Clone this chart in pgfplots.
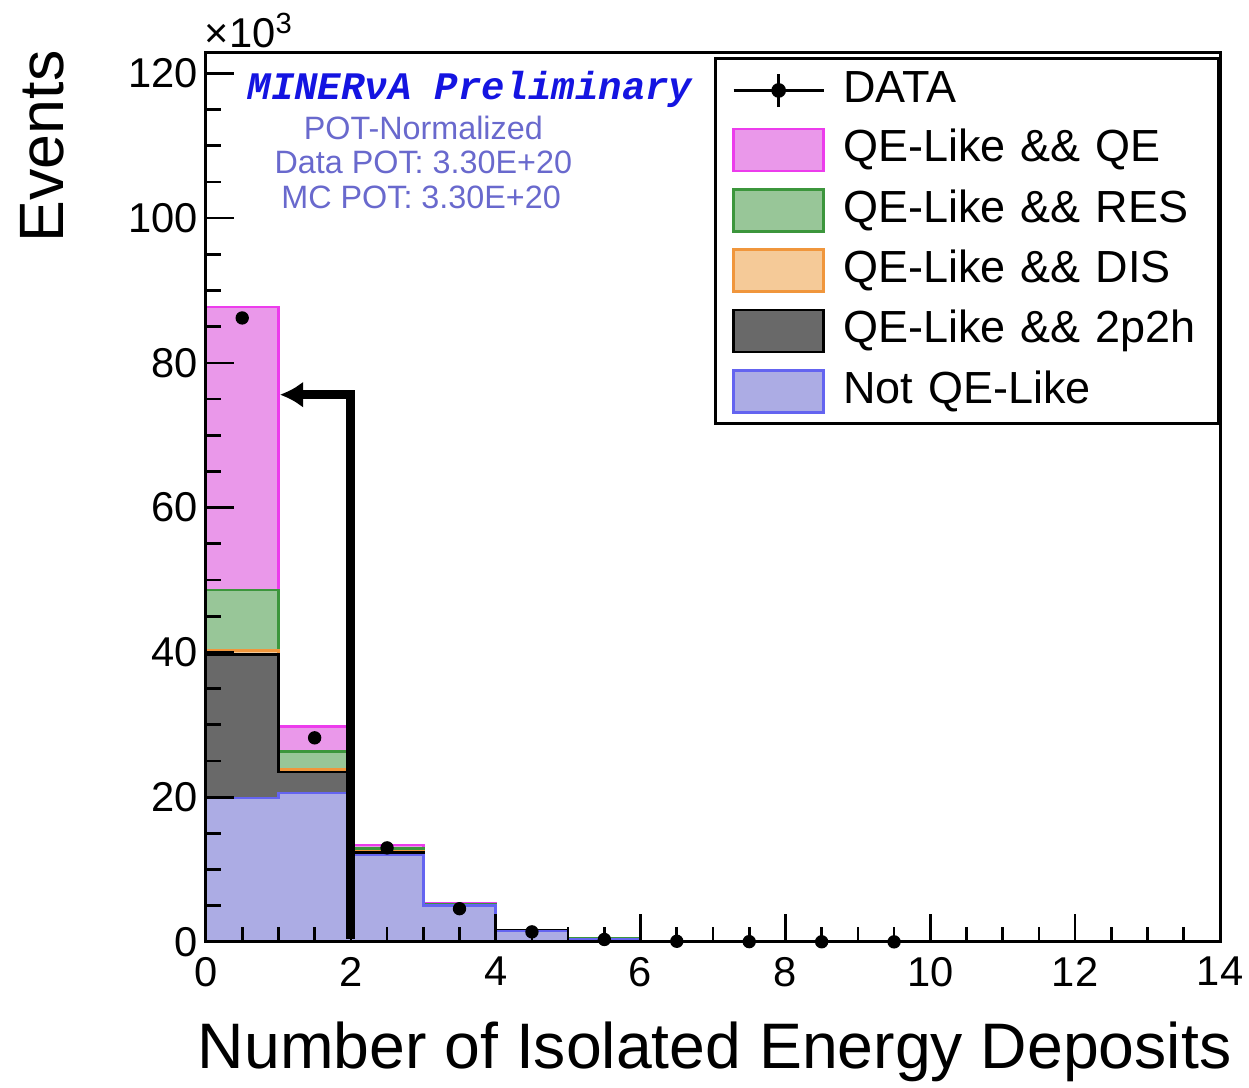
\documentclass[border=0pt]{standalone}
\usepackage{fontspec}
\setmainfont{Liberation Sans}
\newfontfamily\monobi{Liberation Mono}
\usepackage{pgfplots}
\pgfplotsset{compat=1.18}
\usetikzlibrary{arrows.meta}

\definecolor{qefill}{RGB}{234,152,234}
\definecolor{qedraw}{RGB}{236,60,236}
\definecolor{resfill}{RGB}{152,198,152}
\definecolor{resdraw}{RGB}{60,150,60}
\definecolor{disfill}{RGB}{245,202,152}
\definecolor{disdraw}{RGB}{240,150,60}
\definecolor{tphfill}{RGB}{105,105,105}
\definecolor{tphdraw}{RGB}{0,0,0}
\definecolor{notfill}{RGB}{172,172,228}
\definecolor{notdraw}{RGB}{100,100,240}
\definecolor{prelim}{RGB}{20,20,225}
\definecolor{potc}{RGB}{105,105,205}

\pgfplotsset{
  myarea/.style={legend image code/.code={\draw[##1, line width=0.8pt] (0pt,-6.3pt) rectangle (27pt,6.3pt);}},
}

\begin{document}
\begin{tikzpicture}
\begin{axis}[
  scale only axis, width=304.2pt, height=266.7pt,
  xmin=0, xmax=14, ymin=0, ymax=122.8,
  axis on top,
  tick align=inside, xtick pos=bottom, ytick pos=left,
  xtick={0,2,...,14}, ytick={0,20,...,120},
  minor x tick num=3, minor y tick num=3,
  major tick length=8.5pt, minor tick length=4.5pt,
  tick style={line width=0.8pt, black},
  axis line style={line width=0.9pt},
  ticklabel style={font=\fontsize{12.5}{14}\selectfont},
  xticklabel style={yshift=-1pt},
  yticklabel style={xshift=1pt},
  /pgf/number format/assume math mode=true,
  legend style={at={(rel axis cs:1,0.995)}, anchor=north east, draw=black, line width=0.8pt, fill=white,
    font=\fontsize{13.5}{16}\selectfont, cells={anchor=west},
    inner xsep=5.1pt, inner ysep=3pt, row sep=4.7pt,
    nodes={inner sep=0pt, text height=10pt, text depth=3pt, text width=107.6pt, align=left},
    /tikz/every odd column/.style={column sep=5.4pt}},
]
\addlegendimage{black, legend image code/.code={
  \draw[black, line width=0.8pt] (0pt,0pt)--(27pt,0pt);
  \draw[black, line width=0.8pt] (13.5pt,-5pt)--(13.5pt,5pt);
  \fill[black] (13.5pt,0pt) circle (1.8pt);}}
\addlegendentry{DATA}

% cumulative stacks, drawn from the top layer down
\addplot[const plot, myarea, fill=qefill, draw=qedraw, line width=0.8pt] coordinates {
 (0,87.7) (1,29.8) (2,13.4) (3,5.35) (4,1.65) (5,0.47) (6,0.14) (7,0.06) (8,0.03) (9,0.02) (10,0.01) (11,0.01) (12,0) (13,0) (14,0)} \closedcycle;
\addlegendentry{QE-Like \&\& QE}
\addplot[const plot, myarea, fill=resfill, draw=resdraw, line width=0.8pt] coordinates {
 (0,48.6) (1,26.3) (2,12.9) (3,5.25) (4,1.6) (5,0.45) (6,0.13) (7,0.05) (8,0.03) (9,0.02) (10,0.01) (11,0.01) (12,0) (13,0) (14,0)} \closedcycle;
\addlegendentry{QE-Like \&\& RES}
\addplot[const plot, myarea, fill=disfill, draw=disdraw, line width=0.8pt] coordinates {
 (0,40.3) (1,23.8) (2,12.5) (3,5.12) (4,1.56) (5,0.43) (6,0.13) (7,0.05) (8,0.03) (9,0.02) (10,0.01) (11,0.01) (12,0) (13,0) (14,0)} \closedcycle;
\addlegendentry{QE-Like \&\& DIS}
\addplot[const plot, myarea, fill=tphfill, draw=tphdraw, line width=0.8pt] coordinates {
 (0,39.7) (1,23.5) (2,12.4) (3,5.1) (4,1.55) (5,0.42) (6,0.13) (7,0.05) (8,0.03) (9,0.02) (10,0.01) (11,0.01) (12,0) (13,0) (14,0)} \closedcycle;
\addlegendentry{QE-Like \&\& 2p2h}
\addplot[const plot, myarea, fill=notfill, draw=notdraw, line width=0.8pt] coordinates {
 (0,19.9) (1,20.6) (2,12.0) (3,5.0) (4,1.5) (5,0.4) (6,0.12) (7,0.05) (8,0.03) (9,0.02) (10,0.01) (11,0.01) (12,0) (13,0) (14,0)} \closedcycle;
\addlegendentry{Not QE-Like}

\addplot[only marks, mark=*, mark size=1.8pt, black, forget plot] coordinates {
 (0.5,86.2) (1.5,28.2) (2.5,13.0) (3.5,4.6) (4.5,1.4) (5.5,0.35) (6.5,0.1) (7.5,0.05) (8.5,0.03) (9.5,0.02)};

\draw[black, line width=2.7pt, line join=miter, -{Latex[length=7pt,width=8pt]}]
  (axis cs:2,0.4) -- (axis cs:2,75.6) -- (axis cs:1.02,75.6);

\node[font=\monobi\bfseries\itshape\fontsize{11.7}{14}\selectfont, text=prelim] at (axis cs:3.645,117.8) {MINERνA Preliminary};
\node[font=\fontsize{9.7}{12}\selectfont, text=potc] at (axis cs:3.0,112.4) {POT-Normalized};
\node[font=\fontsize{9.7}{12}\selectfont, text=potc] at (axis cs:3.0,107.7) {Data POT: 3.30E+20};
\node[font=\fontsize{9.7}{12}\selectfont, text=potc] at (axis cs:2.97,102.9) {MC POT: 3.30E+20};
\end{axis}
\node[anchor=east, font=\fontsize{19.3}{22}\selectfont, inner sep=0pt] at (307.8pt,-33pt) {Number of Isolated Energy Deposits};
\node[anchor=east, rotate=90, font=\fontsize{18.8}{22}\selectfont, inner sep=0pt] at (-49.2pt,267.6pt) {Events};
\node[anchor=south west, font=\fontsize{12.5}{14}\selectfont, inner sep=0pt] at (-0.5pt,268pt) {×10\textsuperscript{3}};
\pgfresetboundingbox
\useasboundingbox (-61.8pt,-43.8pt) rectangle (312.9pt,282.6pt);
\end{tikzpicture}
\end{document}
